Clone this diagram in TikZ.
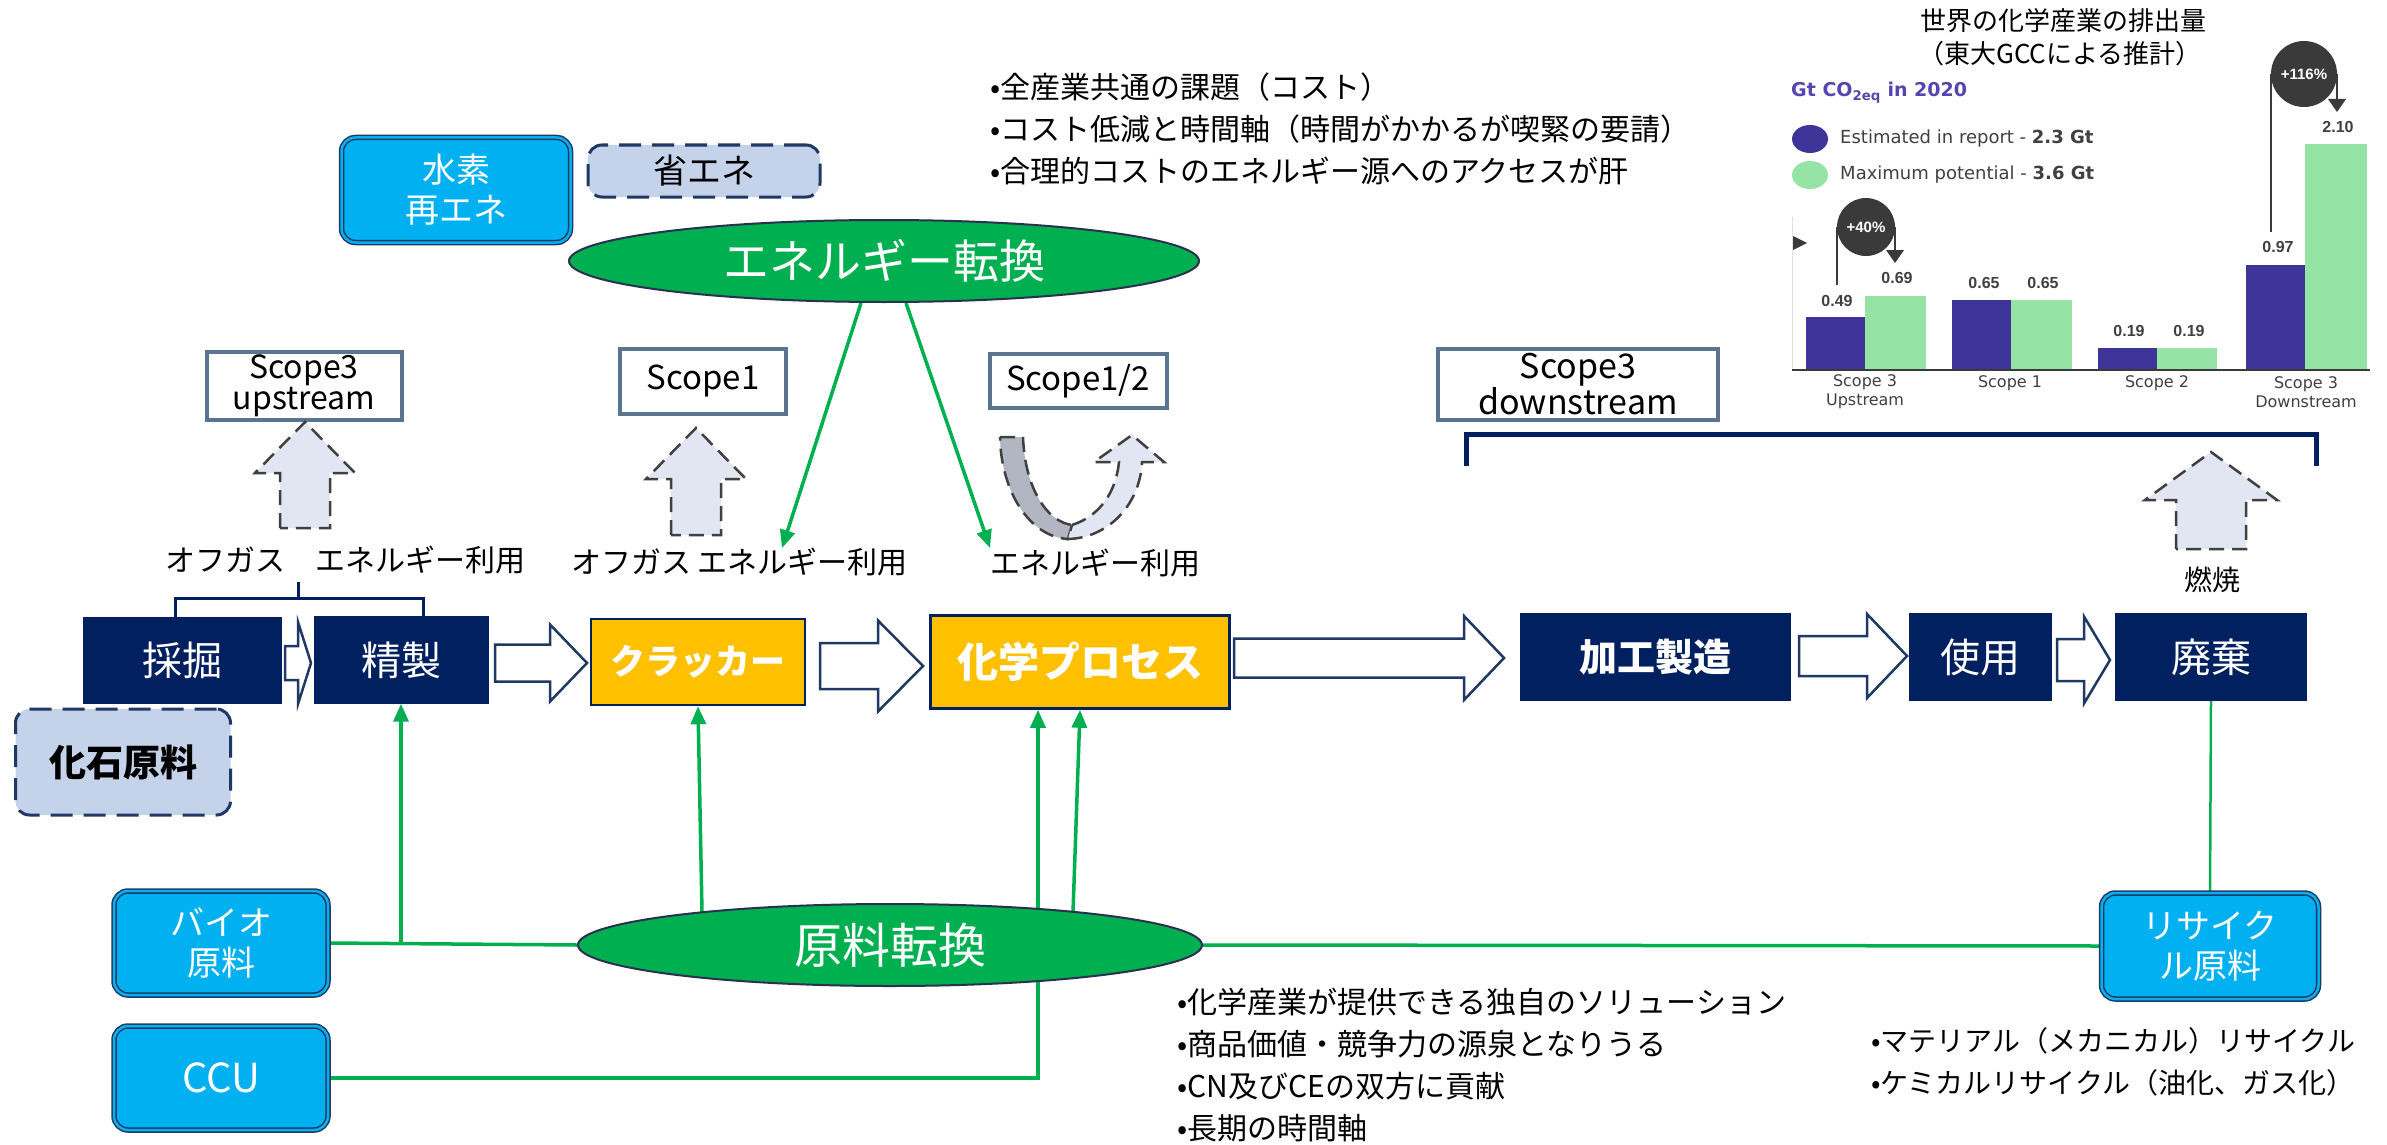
\documentclass[tikz,border=0pt]{standalone}
\usepackage{fontspec}
\setmainfont{Noto Sans CJK JP}
\newfontfamily\chartfont{Liberation Sans}
\newfontfamily\chartwide{DejaVu Sans}
\usetikzlibrary{shapes.geometric,arrows.meta,calc,backgrounds}
\pgfdeclarelayer{bottom}
\pgfsetlayers{bottom,background,main}
\definecolor{navy}{HTML}{002060}
\definecolor{boxyellow}{HTML}{FFC000}
\definecolor{cyanbox}{HTML}{00B0F0}
\definecolor{grn}{HTML}{00B050}
\definecolor{lightbl}{HTML}{C5D3EA}
\definecolor{arrfill}{HTML}{E1E6F2}
\definecolor{uturngray}{HTML}{B2B6C2}
\definecolor{dashgray}{HTML}{404040}
\definecolor{scopeedge}{HTML}{5B7490}
\definecolor{cpurple}{HTML}{3F3598}
\definecolor{cgreen}{HTML}{96E4A5}
\definecolor{cdark}{HTML}{3A3A3A}
\definecolor{ctxt}{HTML}{404040}
\definecolor{cptitle}{HTML}{5645B0}
\definecolor{outl}{HTML}{1F3864}
\definecolor{ellline}{HTML}{2A3050}
\newcommand{\setfs}[2]{\fontsize{#1}{#2}\selectfont}
\newcommand{\procarrow}[6]{\draw[blockarr] (#1,#4-#5) -- (#2,#4-#5) -- (#2,#4-#6) -- (#3,#4) -- (#2,#4+#6) -- (#2,#4+#5) -- (#1,#4+#5) -- cycle;}
\newcommand{\scopearrow}[6]{\draw[dasharr] (#1-#5,#6) -- (#1-#5,#3) -- (#1-#4,#3) -- (#1,#2) -- (#1+#4,#3) -- (#1+#5,#3) -- (#1+#5,#6) -- cycle;}
\tikzset{
 procbox/.style={draw=navy, fill=navy, text=white, inner sep=0pt, font=\setfs{40}{44}},
 ybox/.style={draw=navy, fill=boxyellow, line width=2.5pt, text=white, inner sep=0pt},
 cbox/.style={rounded corners=14pt, fill=cyanbox, draw=outl, double=cyanbox, double distance=2.5pt, line width=1.5pt, text=white, align=center, inner sep=0pt, font=\setfs{34}{40}},
 dbox/.style={rounded corners=14pt, fill=lightbl, draw=outl, line width=3pt, dash pattern=on 22pt off 11pt, inner sep=0pt, font=\setfs{34}{40}},
 scopebox/.style={draw=scopeedge, line width=4pt, fill=white, align=center, inner sep=0pt, font=\setfs{32}{31}},
 gell/.style={ellipse, fill=grn, draw=ellline, line width=2pt, text=white, inner sep=0pt},
 gline/.style={draw=grn, line width=3.5pt},
 garrow/.style={gline, -{Triangle[length=18pt,width=15pt]}},
 blockarr/.style={draw=outl, fill=white, line width=2.5pt, line join=miter},
 dasharr/.style={draw=dashgray, fill=arrfill, line width=2.5pt, dash pattern=on 15pt off 8pt},
 lbl/.style={inner sep=0pt, font=\setfs{30}{36}},
 ctext/.style={inner sep=0pt, font=\chartwide\setfs{16}{19}, text=ctxt},
 cval/.style={inner sep=0pt, font=\chartfont\bfseries\setfs{16}{18}, text=ctxt},
 bracestyle/.style={draw=navy, line width=3pt},
}
\begin{document}
\begin{tikzpicture}[x=1pt,y=-1pt]
\begin{pgfonlayer}{bottom}
\fill[white] (0,0) rectangle (2387,1145);
\end{pgfonlayer}
\useasboundingbox (0,0) rectangle (2387,1145);

% ---------- process boxes ----------
\node[procbox, minimum width=198pt, minimum height=86pt] (saikutsu) at (182,660) {採掘};
\node[procbox, minimum width=174pt, minimum height=87pt] (seisei) at (401,660) {精製};
\node[ybox, minimum width=214pt, minimum height=86pt, font=\bfseries\setfs{35}{40}] (cracker) at (698,662) {クラッカー};
\node[ybox, minimum width=299pt, minimum height=93pt, font=\bfseries\setfs{41}{46}] (kagaku) at (1080,662) {化学プロセス};
\node[procbox, minimum width=270pt, minimum height=87pt, font=\bfseries\setfs{38}{42}] (kakou) at (1655,657) {加工製造};
\node[procbox, minimum width=142pt, minimum height=87pt] (shiyou) at (1980,657) {使用};
\node[procbox, minimum width=191pt, minimum height=87pt] (haiki) at (2211,657) {廃棄};

% ---------- process block arrows ----------
\procarrow{285}{298}{311}{663}{17}{41}
\procarrow{495}{550}{587}{663}{18.5}{38.5}
\procarrow{820}{878}{923}{666}{23}{45.5}
\procarrow{1234}{1464}{1504}{658}{19.5}{42}
\procarrow{1799}{1867}{1907}{656}{20}{42}
\procarrow{2057}{2084}{2110}{660}{21}{43.5}

% ---------- side boxes ----------
\node[cbox, minimum width=229pt, minimum height=105pt] (suiso) at (456,190) {水素\\再エネ};
\node[dbox, minimum width=232pt, minimum height=52pt] (shoene) at (704,171) {省エネ};
\node[dbox, minimum width=215pt, minimum height=106pt, font=\bfseries\setfs{37}{40}, text=black] (kaseki) at (123,762) {化石原料};
\node[cbox, minimum width=214pt, minimum height=104pt] (bio) at (221,943) {バイオ\\原料};
\node[cbox, minimum width=214pt, minimum height=104pt, font=\setfs{40}{44}] (ccu) at (221,1078) {CCU};
\node[cbox, minimum width=217pt, minimum height=106pt] (recycle) at (2210,946) {リサイク\\ル原料};

% ---------- ellipses ----------
\node[gell, minimum width=630pt, minimum height=82pt, font=\setfs{46}{50}] (etenkan) at (884,261) {エネルギー転換};
\node[gell, minimum width=624pt, minimum height=82pt, font=\setfs{48}{52}] (gtenkan) at (890,945) {原料転換};

% ---------- labels ----------
\node[lbl] (t1) at (345,560) {オフガス　エネルギー利用};
\node[lbl, anchor=west] (t2) at (571,562) {オフガス エネルギー利用};
\node[lbl, anchor=west] (t3) at (990,563) {エネルギー利用};
\node[lbl, font=\setfs{28}{32}] (t4) at (2212,580) {燃焼};

\node[lbl, anchor=west] (top1) at (990,87) {•全産業共通の課題（コスト）};
\node[lbl, anchor=west] (top2) at (990,129) {•コスト低減と時間軸（時間がかかるが喫緊の要請）};
\node[lbl, anchor=west] (top3) at (990,171) {•合理的コストのエネルギー源へのアクセスが肝};

\node[lbl, anchor=west] (low1) at (1177,1002) {•化学産業が提供できる独自のソリューション};
\node[lbl, anchor=west] (low2) at (1177,1044) {•商品価値・競争力の源泉となりうる};
\node[lbl, anchor=west] (low3) at (1177,1086) {•CN及びCEの双方に貢献};
\node[lbl, anchor=west] (low4) at (1177,1128) {•長期の時間軸};

\node[lbl, anchor=west, font=\setfs{28}{32}] (rec1) at (1871,1041) {•マテリアル（メカニカル）リサイクル};
\node[lbl, anchor=west, font=\setfs{28}{32}] (rec2) at (1871,1083) {•ケミカルリサイクル（油化、ガス化）};

% ---------- scope boxes ----------
\node[scopebox, minimum width=195pt, minimum height=68pt] (s3up) at (304,386) {Scope3\\upstream};
\node[scopebox, minimum width=166pt, minimum height=65pt, font=\setfs{33}{36}] (s1) at (703,381) {Scope1};
\node[scopebox, minimum width=177pt, minimum height=54pt, font=\setfs{33}{36}] (s12) at (1078,381) {Scope1/2};
\node[scopebox, minimum width=280pt, minimum height=71pt, font=\setfs{34}{33}] (s3down) at (1578,384) {Scope3\\downstream};

% ---------- dashed up arrows ----------
\scopearrow{305}{422}{473}{50}{25}{528}
\scopearrow{696}{428}{479}{50}{25}{535}
\scopearrow{2211}{452}{500}{66}{35}{549}

% U-turn arrow (Scope1/2)
\draw[dasharr, fill=uturngray] (1000,437) -- (1023,437) .. controls (1025,490) and (1048,522) .. (1072,525) -- (1068,539) .. controls (1030,537) and (1001,492) .. cycle;
\draw[dasharr] (1072,525) .. controls (1100,516) and (1116,492) .. (1119,462) -- (1094,462) -- (1132,435) -- (1164,462) -- (1142,462) .. controls (1140,505) and (1108,538) .. (1068,539) -- cycle;

% ---------- braces ----------
\draw[bracestyle] (175,617) -- (175,598) -- (423,598) -- (423,617);
\draw[bracestyle] (298,598) -- (298,582);
\draw[draw=navy, line width=5pt] (1466,466) -- (1466,434) -- (2316,434) -- (2316,466);

% ---------- green connectors ----------
\coordinate (ea1) at (782,548);
\coordinate (ea2) at (990,548);
\coordinate (gc1) at (702,912);
\coordinate (gc2) at (1073,912);
\begin{pgfonlayer}{background}
\draw[garrow] ([xshift=-23pt]etenkan.south) -- (ea1);
\draw[garrow] ([xshift=22pt]etenkan.south) -- (ea2);
\draw[gline] (bio.east) -- (gtenkan.west);
\draw[garrow] (seisei.south |- bio.east) -- (seisei.south);
\draw[garrow] (gc1) -- (cracker.south);
\draw[garrow] (ccu.east) -| ([xshift=-42pt]kagaku.south);
\draw[garrow] (gc2) -- (kagaku.south);
\draw[gline] (gtenkan.east) -- (recycle.west);
\draw[gline, line width=2.5pt] (haiki.south) -- (recycle.north);
\end{pgfonlayer}

% ---------- chart ----------
\node[lbl, font=\setfs{26}{30}] (ctitle1) at (2063,21) {世界の化学産業の排出量};
\node[lbl, font=\setfs{26}{30}] (ctitle2) at (2060,54) {（東大GCCによる推計）};
\node[inner sep=0pt, anchor=west, font=\chartwide\bfseries\setfs{19}{22}, text=cptitle] (cunit) at (1791,93) {Gt CO\textsubscript{2eq} in 2020};
\fill[cpurple] (1810,139) ellipse [x radius=18, y radius=14];
\fill[cgreen] (1810,175) ellipse [x radius=18, y radius=14];
\node[ctext, anchor=west, font=\chartwide\setfs{18}{21}] (leg1) at (1840,139) {Estimated in report - \textbf{2.3 Gt}};
\node[ctext, anchor=west, font=\chartwide\setfs{18}{21}] (leg2) at (1840,175) {Maximum potential - \textbf{3.6 Gt}};

\draw[draw=black!12, line width=1pt] (1792,217) -- (1792,370);
\fill[cpurple] (1806,317) rectangle (1865,370);
\fill[cgreen] (1865,296) rectangle (1926,370);
\fill[cpurple] (1952,300) rectangle (2011,370);
\fill[cgreen] (2011,300) rectangle (2072,370);
\fill[cpurple] (2098,348) rectangle (2157,370);
\fill[cgreen] (2157,348) rectangle (2217,370);
\fill[cpurple] (2246,265) rectangle (2305,370);
\fill[cgreen] (2305,144) rectangle (2367,370);
\draw[draw=cdark, line width=1.5pt] (1792,370) -- (2370,370);

\node[cval] (v1) at (1837,301) {0.49};
\node[cval] (v2) at (1897,278) {0.69};
\node[cval] (v3) at (1984,283) {0.65};
\node[cval] (v4) at (2043,283) {0.65};
\node[cval] (v5) at (2129,331) {0.19};
\node[cval] (v6) at (2189,331) {0.19};
\node[cval] (v7) at (2278,247) {0.97};
\node[cval] (v8) at (2338,127) {2.10};

\node[ctext, align=center] (cat1) at (1865,392) {Scope 3\\Upstream};
\node[ctext] (cat2) at (2010,383) {Scope 1};
\node[ctext] (cat3) at (2157,383) {Scope 2};
\node[ctext, align=center] (cat4) at (2306,392) {Scope 3\\Downstream};

% +40%
\draw[draw=cdark, line width=1.2pt] (1837,285) -- (1837,227);
\draw[draw=cdark, line width=1.2pt] (1895,227) -- (1895,252);
\fill[cdark] (1886,250) -- (1904,250) -- (1895,263) -- cycle;
\node[circle, fill=cdark, minimum size=58pt, inner sep=0pt, text=white, font=\chartfont\bfseries\setfs{15}{18}] (p40) at (1866,227) {+40\%};
\fill[cdark] (1793,236) -- (1807,243) -- (1793,250) -- cycle;
% +116%
\draw[draw=cdark, line width=1.2pt] (2271,232) -- (2271,74);
\draw[draw=cdark, line width=1.2pt] (2337,74) -- (2337,100);
\fill[cdark] (2328,99) -- (2346,99) -- (2337,112) -- cycle;
\node[circle, fill=cdark, minimum size=66pt, inner sep=0pt, text=white, font=\chartfont\bfseries\setfs{15}{18}] (p116) at (2304,74) {+116\%};
\end{tikzpicture}
\end{document}
